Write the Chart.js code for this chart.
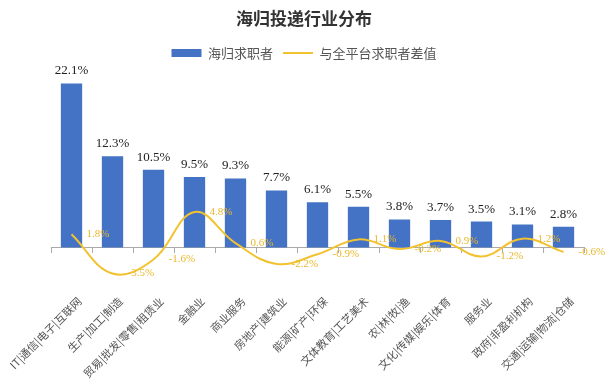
<!DOCTYPE html>
<html><head><meta charset="utf-8">
<script src="https://cdn.jsdelivr.net/npm/chart.js@4/dist/chart.umd.min.js"></script>
<style>html,body{margin:0;padding:0;background:#fff}#wrap{width:614px;height:381px}</style>
</head><body><div id="wrap"><canvas id="c" width="614" height="381"></canvas></div>
<script>
const categories = ['IT|通信|电子|互联网','生产|加工|制造','贸易|批发|零售|租赁业','金融业','商业服务','房地产|建筑业','能源|矿产|环保','文体教育|工艺美术','农|林|牧|渔','文化|传媒|娱乐|体育','服务业','政府|非盈利机构','交通|运输|物流|仓储'];
const haiguiShare = [22.1,12.3,10.5,9.5,9.3,7.7,6.1,5.5,3.8,3.7,3.5,3.1,2.8];
const diffVsPlatform = [1.8,-3.5,-1.6,4.8,0.6,-2.2,-0.9,1.1,-0.2,0.9,-1.2,1.2,-0.6];
const seriesNames = ['海归求职者','与全平台求职者差值'];
const chartTitle = '海归投递行业分布';

const BAR_COLOR = '#4472C4';
const LINE_COLOR = '#F2C230';

const labelPlugin = {
  id: 'valueLabels',
  afterDatasetsDraw(chart) {
    const ctx = chart.ctx;
    ctx.save();
    const m0 = chart.getDatasetMeta(0);
    ctx.font = '13px "Liberation Serif", serif';
    ctx.fillStyle = '#222';
    ctx.textAlign = 'center';
    ctx.textBaseline = 'bottom';
    m0.data.forEach((el, i) => {
      ctx.fillText(haiguiShare[i].toFixed(1) + '%', el.x, el.y - 6);
    });
    const m1 = chart.getDatasetMeta(1);
    ctx.font = '11px "Liberation Serif", serif';
    ctx.fillStyle = '#E9B82A';
    ctx.textAlign = 'left';
    ctx.textBaseline = 'middle';
    m1.data.forEach((el, i) => {
      ctx.fillText(diffVsPlatform[i].toFixed(1) + '%', el.x + 15, el.y);
    });
    ctx.restore();
  }
};

new Chart(document.getElementById('c'), {
  data: {
    labels: categories,
    datasets: [
      { type: 'bar', label: seriesNames[0], data: haiguiShare, backgroundColor: BAR_COLOR,
        borderWidth: 0, categoryPercentage: 1, barPercentage: 0.52, pointStyle: 'rect', order: 1 },
      { type: 'line', label: seriesNames[1], data: diffVsPlatform, borderColor: LINE_COLOR,
        backgroundColor: LINE_COLOR, borderWidth: 2, tension: 0.4, pointRadius: 0,
        pointStyle: 'line', fill: false, order: 0 }
    ]
  },
  options: {
    responsive: false,
    animation: false,
    layout: { padding: { left: 24, right: 30, top: 2, bottom: 100 } },
    plugins: {
      title: { display: true, text: chartTitle, color: '#333',
        font: { family: '"Noto Sans CJK SC", sans-serif', size: 17, weight: 'bold' },
        padding: { top: 6, bottom: 8 } },
      legend: {
        display: true,
        labels: {
          usePointStyle: true, pointStyleWidth: 30, boxHeight: 8, padding: 10,
          color: '#555',
          font: { family: '"Noto Sans CJK SC", sans-serif', size: 13 },
          sort: (a, b) => a.datasetIndex - b.datasetIndex
        }
      },
      tooltip: { enabled: false }
    },
    scales: {
      x: {
        position: { y: 0 },
        offset: true,
        afterFit: (scale) => { scale.paddingLeft = 51; scale.paddingRight = 30; },
        grid: { offset: true, drawOnChartArea: false, drawTicks: true, tickLength: 5, color: '#aaa' },
        border: { display: true, color: '#aaa' },
        ticks: { autoSkip: false, maxRotation: 45, minRotation: 45, padding: 42, labelOffset: 8, color: '#555',
          font: { family: '"Noto Sans CJK SC", sans-serif', size: 11 } }
      },
      y: { display: false, min: -4.5, max: 24 }
    }
  },
  plugins: [labelPlugin]
});
</script>
</body></html>
